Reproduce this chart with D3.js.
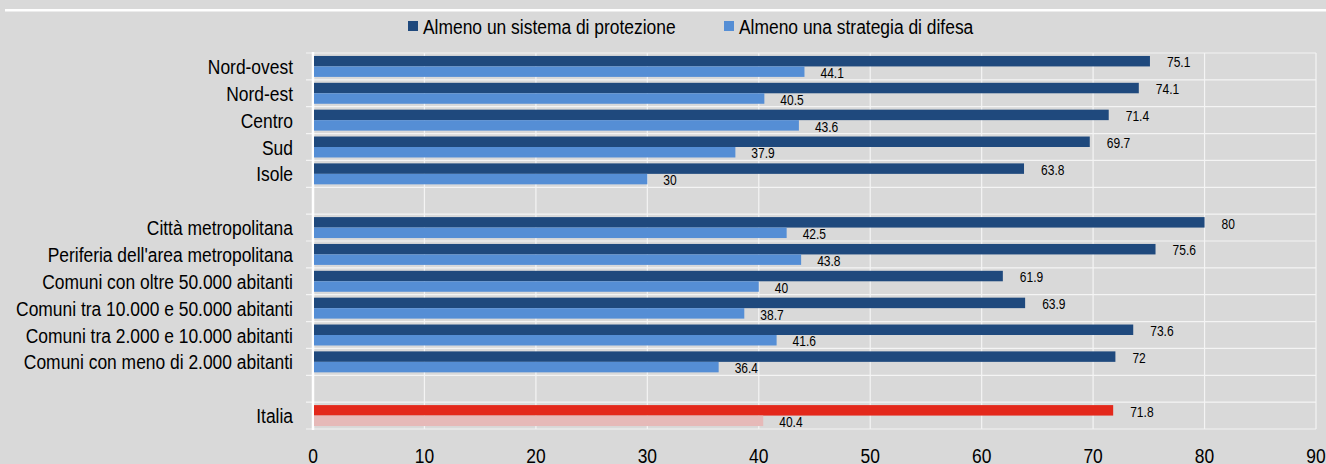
<!DOCTYPE html>
<html>
  <head>
    <script src="https://d3js.org/d3.v7.min.js" charset="utf-8"></script>
    <style type="text/css">
    body {
      margin: 0;
      background: #d9d9d9;
    }
    text {
      font-family: "Liberation Sans", Arial, sans-serif;
      fill: #000;
    }
    </style>
  </head>
  <body>
  <script type="text/javascript">
  // data (blank strings are the empty spacer rows)
  var categories = ["Nord-ovest", "Nord-est", "Centro", "Sud", "Isole", "",
    "Città metropolitana", "Periferia dell'area metropolitana",
    "Comuni con oltre 50.000 abitanti", "Comuni tra 10.000 e 50.000 abitanti",
    "Comuni tra 2.000 e 10.000 abitanti", "Comuni con meno di 2.000 abitanti", "",
    "Italia"];
  var protezione = [75.1, 74.1, 71.4, 69.7, 63.8, null, 80, 75.6, 61.9, 63.9, 73.6, 72, null, 71.8];
  var difesa = [44.1, 40.5, 43.6, 37.9, 30, null, 42.5, 43.8, 40, 38.7, 41.6, 36.4, null, 40.4];
  var seriesNames = ["Almeno un sistema di protezione", "Almeno una strategia di difesa"];
  var xTicks = [0, 10, 20, 30, 40, 50, 60, 70, 80, 90];

  var W = 1326, H = 464;
  var mLeft = 313, mRight = 1316, mTop = 53, mBottom = 429;
  var narrow = 0.83;  // no Arial Narrow here, squeeze the text instead

  function at(px, py) { return "translate(" + px + "," + py + ") scale(" + narrow + ",1)"; }

  var svg = d3.select("body").append("svg").attr("width", W).attr("height", H);

  // white rule at top
  svg.append("rect").attr("x", 5).attr("y", 9).attr("width", W - 5).attr("height", 2.5).attr("fill", "#fff");

  var x = d3.scaleLinear().domain([0, 90]).range([mLeft, mRight]);
  var y = d3.scaleBand().domain(d3.range(categories.length)).range([mTop, mBottom])
    .paddingInner(0.22).paddingOuter(0.11);
  var slot = y.step();

  // gridlines
  var g = svg.append("g");
  g.selectAll("line.v").data(xTicks.slice(1)).enter().append("line")
    .attr("x1", function(d) { return x(d); }).attr("x2", function(d) { return x(d); })
    .attr("y1", mTop).attr("y2", mBottom)
    .attr("stroke", "#f4f4f4").attr("stroke-width", 1.2);
  g.selectAll("line.h").data(d3.range(categories.length + 1)).enter().append("line")
    .attr("x1", mLeft - 7).attr("x2", mRight)
    .attr("y1", function(d) { return mTop + d * slot; }).attr("y2", function(d) { return mTop + d * slot; })
    .attr("stroke", "#f4f4f4").attr("stroke-width", 1.2);
  g.append("line").attr("x1", mLeft).attr("x2", mLeft).attr("y1", mTop - 1).attr("y2", mBottom + 1)
    .attr("stroke", "#fff").attr("stroke-width", 2.5);

  // bars
  var rows = d3.range(categories.length).filter(function(i) { return protezione[i] != null; });
  var bh = y.bandwidth() / 2;
  function colA(i) { return categories[i] === "Italia" ? "#e3281b" : "#1f497d"; }
  function colB(i) { return categories[i] === "Italia" ? "#e6b9b8" : "#558ed5"; }

  var bars = svg.append("g");
  bars.selectAll("rect.a").data(rows).enter().append("rect")
    .attr("x", x(0) + 1).attr("y", function(i) { return y(i); })
    .attr("width", function(i) { return x(protezione[i]) - x(0) - 1; }).attr("height", bh)
    .attr("fill", colA);
  bars.selectAll("rect.b").data(rows).enter().append("rect")
    .attr("x", x(0) + 1).attr("y", function(i) { return y(i) + bh; })
    .attr("width", function(i) { return x(difesa[i]) - x(0) - 1; }).attr("height", bh)
    .attr("fill", colB);

  // value labels
  var lab = svg.append("g").style("font-size", "14.5px");
  lab.selectAll("text.a").data(rows).enter().append("text")
    .attr("transform", function(i) { return at(x(protezione[i]) + 17, y(i) + bh / 2 + 1); })
    .attr("dy", "0.36em")
    .text(function(i) { return protezione[i]; });
  lab.selectAll("text.b").data(rows).enter().append("text")
    .attr("transform", function(i) { return at(x(difesa[i]) + 16, y(i) + bh * 1.5 + 1); })
    .attr("dy", "0.36em")
    .text(function(i) { return difesa[i]; });

  // category labels
  svg.append("g").selectAll("text").data(d3.range(categories.length)).enter().append("text")
    .attr("transform", function(i) { return at(293, mTop + (i + 0.5) * slot); })
    .attr("dy", "0.36em")
    .attr("text-anchor", "end").style("font-size", "21px")
    .text(function(i) { return categories[i]; });

  // x axis tick labels
  svg.append("g").selectAll("text").data(xTicks).enter().append("text")
    .attr("transform", function(d) { return at(x(d), 462.5); })
    .attr("text-anchor", "middle").style("font-size", "21px")
    .text(function(d) { return d; });

  // legend
  var legX = [408, 724];
  var leg = svg.append("g");
  leg.selectAll("rect").data(seriesNames).enter().append("rect")
    .attr("x", function(d, i) { return legX[i]; }).attr("y", 21)
    .attr("width", 10).attr("height", 10)
    .attr("fill", function(d, i) { return i === 0 ? "#1f497d" : "#558ed5"; });
  leg.selectAll("text").data(seriesNames).enter().append("text")
    .attr("transform", function(d, i) { return at(legX[i] + 15, 34); })
    .style("font-size", "21px")
    .text(function(d) { return d; });
  </script>
  </body>
</html>
